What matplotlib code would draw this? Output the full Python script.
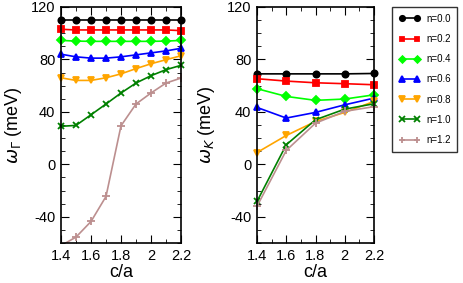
import numpy as np
import matplotlib
matplotlib.use("Agg")
from matplotlib import pyplot as plt
from matplotlib.ticker import MultipleLocator

plt.rcParams['font.family'] = ['Liberation Sans', 'DejaVu Sans']
plt.rcParams['axes.unicode_minus'] = False

ca_gamma = [1.4, 1.5, 1.6, 1.7, 1.8, 1.9, 2.0, 2.1, 2.2]
ca_k = [1.4, 1.6, 1.8, 2.0, 2.2]
labels = ['n=0.0', 'n=0.2', 'n=0.4', 'n=0.6', 'n=0.8', 'n=1.0', 'n=1.2']

w_gamma = [
    [110, 110, 110, 110, 110, 110, 110, 110, 110],
    [103, 102.5, 102.5, 102.5, 102.5, 102.5, 102.5, 102.5, 102],
    [94.5, 94, 93.8, 93.8, 93.8, 93.8, 93.8, 94, 94.5],
    [84, 82, 81, 81, 82, 83.5, 85, 86.5, 88.5],
    [66, 64, 64, 66, 69, 73, 76.7, 79.8, 82.8],
    [29, 29.7, 37.8, 46, 54.4, 62, 67.6, 72.2, 75.5],
    [-62, -55.5, -43.6, -24.5, 29.4, 46, 54.4, 62, 65.8],
]
w_k = [
    [69, 69, 69, 69, 69.3],
    [65.3, 63.5, 62.2, 61.5, 60.7],
    [57.7, 51.8, 48.8, 49.8, 53],
    [43.4, 35.3, 39.6, 45.4, 50.5],
    [9, 22, 32.7, 39.6, 48],
    [-28.3, 14.9, 34, 42.1, 46.2],
    [-32, 10.6, 31.4, 40.4, 44],
]

colors = ['black', 'red', '#00ff00', 'blue', '#ffa500', 'green', '#bc8f8f']
markers = ['o', 's', 'D', '^', 'v', 'x', '+']
msizes = [4.5, 4.2, 4, 5, 5, 4.5, 5.5]

fig = plt.figure(figsize=(4.63, 2.83), dpi=100)
ax1 = fig.add_axes([61 / 463, 1 - 243 / 283, 120 / 463, 236 / 283])
ax2 = fig.add_axes([257 / 463, 1 - 243 / 283, 117 / 463, 236 / 283])

handles = []
for i in range(len(labels)):
    h, = ax1.plot(ca_gamma, w_gamma[i], color=colors[i], marker=markers[i],
                  ms=msizes[i], lw=1.2, mew=1.3, label=labels[i], clip_on=(i == 6))
    ax2.plot(ca_k, w_k[i], color=colors[i], marker=markers[i],
             ms=msizes[i], lw=1.2, mew=1.3, clip_on=False)
    handles.append(h)

for ax, lab, lp in [(ax1, r'$\omega_\Gamma$ (meV)', 5), (ax2, r'$\omega_K$ (meV)', 7)]:
    ax.set_xlim(1.4, 2.2)
    ax.set_ylim(-60, 120)
    ax.xaxis.set_minor_locator(MultipleLocator(0.1))
    ax.yaxis.set_major_locator(MultipleLocator(40))
    ax.yaxis.set_minor_locator(MultipleLocator(10))
    ax.set_xticks([1.4, 1.6, 1.8, 2.0, 2.2])
    ax.set_xticklabels(['1.4', '1.6', '1.8', '2', '2.2'])
    ax.tick_params(which='both', direction='in', top=True, right=True, labelsize=10.5, pad=4)
    ax.tick_params(which='major', length=6)
    ax.tick_params(which='minor', length=3)
    ax.set_xlabel('c/a', fontsize=13, labelpad=1)
    ax.set_ylabel(lab, fontsize=13, labelpad=lp)
    for s in ax.spines.values():
        s.set_linewidth(1.2)

leg = fig.legend(handles=handles, loc='upper left', bbox_to_anchor=(392 / 463, 1 - 7 / 283),
                 numpoints=2, fontsize=7, frameon=True, fancybox=False, handlelength=2.2,
                 borderpad=0.7, labelspacing=1.05, handletextpad=0.6, borderaxespad=0,
                 markerscale=0.85)
leg.get_frame().set_edgecolor('black')
leg.get_frame().set_linewidth(1.0)

fig.savefig('out.png', dpi=100)
